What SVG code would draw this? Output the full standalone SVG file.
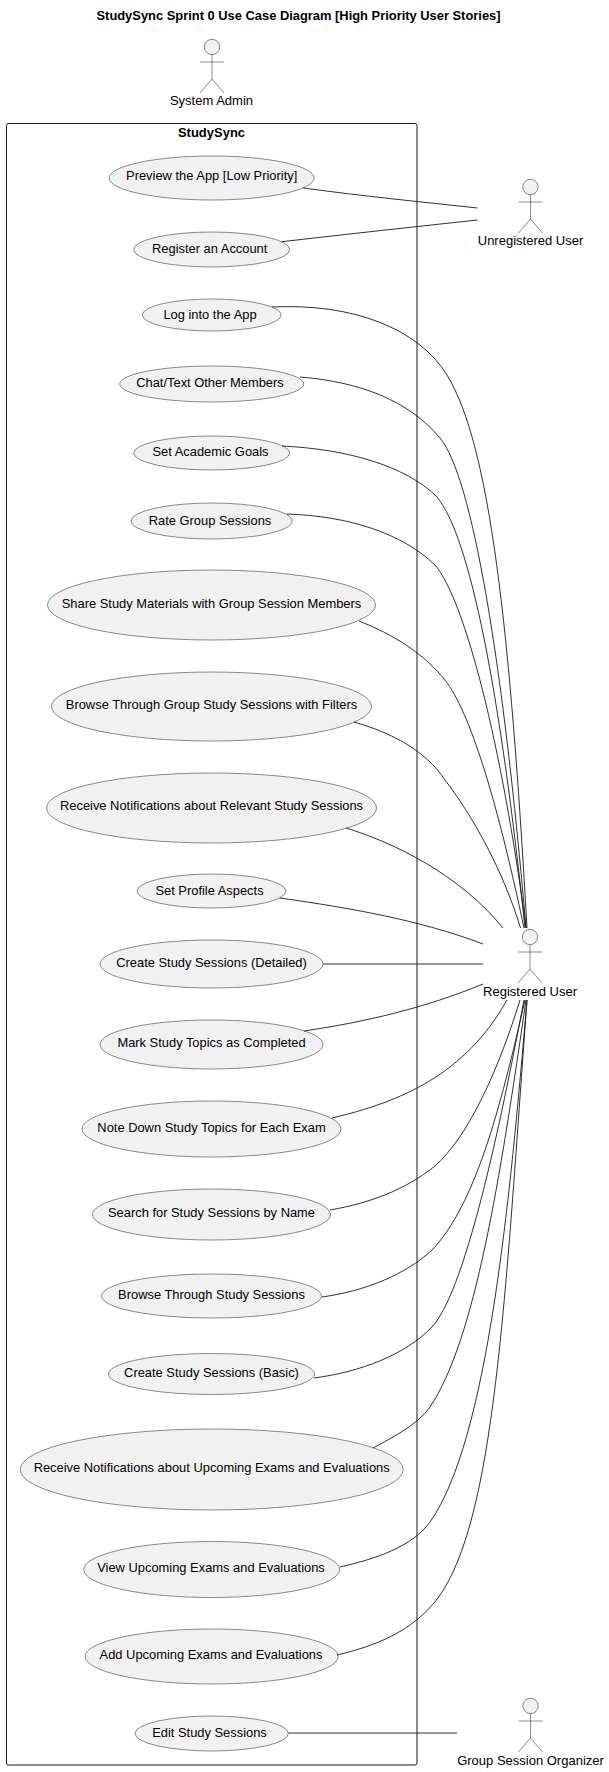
<svg xmlns="http://www.w3.org/2000/svg" width="609" height="1772" viewBox="0 0 609 1772">
<style>
text{font-family:"Liberation Sans",Arial,sans-serif;font-size:12.9px;fill:#000;text-anchor:middle}
.b{font-weight:bold;font-size:13px}
.t{font-size:12.9px;font-weight:bold}
.l{font-size:13px}
ellipse{fill:#f1f1f1;stroke:#181818;stroke-width:.5}
.c{fill:none;stroke:#181818;stroke-width:.9}
.a circle{fill:#f1f1f1;stroke:#181818;stroke-width:.5}
.a path{fill:none;stroke:#181818;stroke-width:.5}
</style>
<defs><g id="stick" class="a"><circle cx="0" cy="0" r="7.7"/><path d="M0,7.7V32M-12,15H12M-12,46L0,32L12,46"/></g></defs>
<rect width="609" height="1772" fill="#fff"/>
<text class="t" x="298.5" y="20">StudySync Sprint 0 Use Case Diagram [High Priority User Stories]</text>
<g id="boundary"><rect x="6.5" y="123.5" width="410.5" height="1641.5" rx="2" fill="none" stroke="#181818" stroke-width="1"/><text class="b" x="211.5" y="137">StudySync</text></g>
<g id="uc1"><ellipse cx="211.7" cy="178" rx="102.5" ry="22"/><text x="211.7" y="180">Preview the App [Low Priority]</text></g>
<g id="uc2"><ellipse cx="211.7" cy="249.5" rx="78" ry="17.5"/><text x="209.7" y="253">Register an Account</text></g>
<g id="uc3"><ellipse cx="211.7" cy="315" rx="69.5" ry="16"/><text x="210" y="319">Log into the App</text></g>
<g id="uc4"><ellipse cx="211.7" cy="384" rx="92" ry="18"/><text x="210" y="387">Chat/Text Other Members</text></g>
<g id="uc5"><ellipse cx="211.7" cy="453" rx="78" ry="17"/><text x="210.5" y="456">Set Academic Goals</text></g>
<g id="uc6"><ellipse cx="211.7" cy="521" rx="80.5" ry="18"/><text x="210" y="525">Rate Group Sessions</text></g>
<g id="uc7"><ellipse cx="211.5" cy="605" rx="164" ry="35"/><text x="211.5" y="608">Share Study Materials with Group Session Members</text></g>
<g id="uc8"><ellipse cx="211.5" cy="706.5" rx="160" ry="34.5"/><text x="211.5" y="709">Browse Through Group Study Sessions with Filters</text></g>
<g id="uc9"><ellipse cx="211.5" cy="808" rx="165" ry="35"/><text x="211.5" y="810">Receive Notifications about Relevant Study Sessions</text></g>
<g id="uc10"><ellipse cx="211.5" cy="891" rx="74.5" ry="17"/><text x="209.5" y="895">Set Profile Aspects</text></g>
<g id="uc11"><ellipse cx="211.5" cy="964" rx="111.5" ry="24"/><text x="211.5" y="967">Create Study Sessions (Detailed)</text></g>
<g id="uc12"><ellipse cx="211.5" cy="1044.5" rx="111.5" ry="24.5"/><text x="211.5" y="1047">Mark Study Topics as Completed</text></g>
<g id="uc13"><ellipse cx="211.5" cy="1129" rx="129.5" ry="28"/><text x="211.5" y="1132">Note Down Study Topics for Each Exam</text></g>
<g id="uc14"><ellipse cx="211.5" cy="1214.5" rx="119" ry="25.5"/><text x="211.5" y="1217">Search for Study Sessions by Name</text></g>
<g id="uc15"><ellipse cx="211.5" cy="1296" rx="110" ry="22"/><text x="211.5" y="1299">Browse Through Study Sessions</text></g>
<g id="uc16"><ellipse cx="211.5" cy="1374" rx="103" ry="20.5"/><text x="211.5" y="1377">Create Study Sessions (Basic)</text></g>
<g id="uc17"><ellipse cx="211.7" cy="1469.5" rx="191.5" ry="40.5"/><text x="211.7" y="1472">Receive Notifications about Upcoming Exams and Evaluations</text></g>
<g id="uc18"><ellipse cx="211.7" cy="1569.5" rx="128" ry="28"/><text x="211" y="1572">View Upcoming Exams and Evaluations</text></g>
<g id="uc19"><ellipse cx="211.7" cy="1656.5" rx="126.5" ry="27.5"/><text x="211" y="1659">Add Upcoming Exams and Evaluations</text></g>
<g id="uc20"><ellipse cx="211.7" cy="1733.5" rx="76.7" ry="17.5"/><text x="209.5" y="1737">Edit Study Sessions</text></g>
<g id="connectors">
<path class="c" d="M303.5,188C362,196 422,202 477.5,208"/>
<path class="c" d="M282,241.7C348,234 413,227 477.5,220"/>
<path class="c" d="M272,307C352,303 418,328 447,375C490,445 510,628 527,928"/>
<path class="c" d="M300,377C360,382 408,400 440,438C472,476 503,660 526,928"/>
<path class="c" d="M282,446C345,449 405,465 437,497C470,537 500,690 525,928"/>
<path class="c" d="M287,514C348,516 402,533 435,565C465,600 502,745 526,928"/>
<path class="c" d="M359,621C395,635 425,655 445,680C470,712 497,800 524,928"/>
<path class="c" d="M354,722C392,733 425,750 445,780C472,815 503,870 520.5,928"/>
<path class="c" d="M346,828C395,843 460,875 503,928"/>
<path class="c" d="M280,898C350,908 420,920 483,944"/>
<path class="c" d="M323,964H483"/>
<path class="c" d="M304,1031C365,1022 425,1008 483,984"/>
<path class="c" d="M332,1118C400,1102 465,1075 507,1000"/>
<path class="c" d="M330,1210C370,1203 405,1190 435,1166C470,1135 500,1065 520,1000"/>
<path class="c" d="M322,1297C365,1291 405,1275 432,1250C475,1205 500,1110 525,1000"/>
<path class="c" d="M314,1378C360,1372 405,1355 432,1327C468,1288 505,1100 524,1000"/>
<path class="c" d="M373,1448C395,1436 417,1425 430,1407C475,1340 500,1180 526,1000"/>
<path class="c" d="M340,1567C375,1559 412,1547 430,1522C488,1440 510,1200 527,1000"/>
<path class="c" d="M337,1655C375,1646 412,1632 438,1598C495,1520 505,1300 527,1000"/>
<path class="c" d="M288.5,1733H457"/>
</g>
<g id="actor-admin"><use href="#stick" x="212" y="47"/><text class="l" x="211.5" y="105">System Admin</text></g>
<g id="actor-unregistered"><use href="#stick" x="530.5" y="187"/><text class="l" x="530.5" y="245">Unregistered User</text></g>
<g id="actor-registered"><use href="#stick" x="530" y="937"/><text class="l" x="530" y="996">Registered User</text></g>
<g id="actor-organizer"><use href="#stick" x="530.5" y="1706"/><text class="l" x="530.5" y="1765">Group Session Organizer</text></g>
</svg>
